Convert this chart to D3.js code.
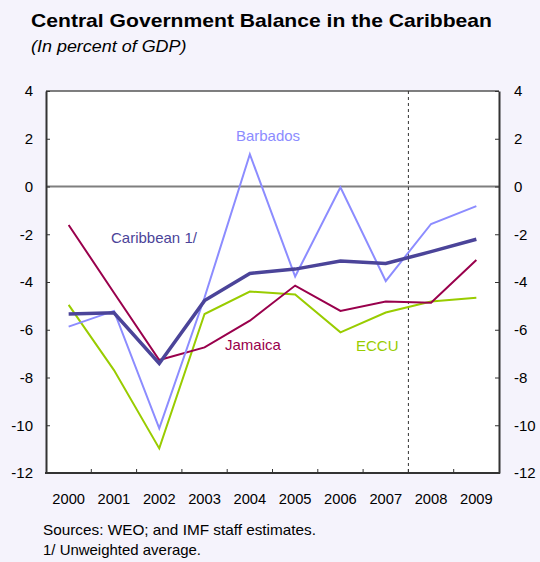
<!DOCTYPE html>
<html>
<head>
<meta charset="utf-8">
<script src="https://cdn.jsdelivr.net/npm/d3@7"></script>
<style>
  html, body { margin: 0; padding: 0; background: #F5F3FC; }
  svg { display: block; font-family: "Liberation Sans", Arial, sans-serif; }
</style>
</head>
<body>
<svg id="chart" width="540" height="562"></svg>
<script>
// Fiscal balance, percent of GDP
const years = ["2000","2001","2002","2003","2004","2005","2006","2007","2008","2009"];
const caribbean = [-5.34, -5.29, -7.41, -4.78, -3.64, -3.46, -3.12, -3.22, -2.73, -2.21];
const barbados  = [-5.87, -5.21, -10.13, -4.65, 1.35, -3.77, -0.03, -3.96, -1.57, -0.82];
const jamaica   = [-1.61, -4.45, -7.27, -6.74, -5.62, -4.15, -5.21, -4.82, -4.87, -3.08];
const eccu      = [-4.96, -7.69, -10.97, -5.34, -4.40, -4.52, -6.11, -5.28, -4.82, -4.66];
const yTicks = [4, 2, 0, -2, -4, -6, -8, -10, -12];
const projectionStart = "2008";

const series = [
  { name: "ECCU",         values: eccu,      color: "#99CC00", width: 2,   label: { x: 356, y: 351, anchor: "start" } },
  { name: "Jamaica",      values: jamaica,   color: "#99004C", width: 2,   label: { x: 225, y: 350, anchor: "start" } },
  { name: "Barbados",     values: barbados,  color: "#8C8CFF", width: 2,   label: { x: 268, y: 141, anchor: "middle" } },
  { name: "Caribbean 1/", values: caribbean, color: "#4B4499", width: 3.5, label: { x: 111, y: 243, anchor: "start" } }
];

const svg = d3.select("#chart");
const L = 46, R = 499, T = 91, B = 473;

const x = d3.scaleBand().domain(years).range([L, R]).padding(0);
const y = d3.scaleLinear().domain([-12, 4]).range([B, T]);
const cx = d => x(d) + x.bandwidth() / 2;

// Title block (set to a fixed run length so the heading spans the chart width)
svg.append("text").attr("x", 31).attr("y", 26.5)
  .attr("font-size", 19).attr("font-weight", "bold").attr("fill", "#000")
  .attr("textLength", 461).attr("lengthAdjust", "spacingAndGlyphs")
  .text("Central Government Balance in the Caribbean");
svg.append("text").attr("x", 31).attr("y", 52)
  .attr("font-size", 16.5).attr("font-style", "italic").attr("fill", "#000")
  .attr("textLength", 155.5).attr("lengthAdjust", "spacingAndGlyphs")
  .text("(In percent of GDP)");

// Plot area
svg.append("rect").attr("x", L).attr("y", T).attr("width", R - L).attr("height", B - T)
  .attr("fill", "#fff");

// Top frame line
svg.append("line").attr("x1", L).attr("x2", R).attr("y1", T).attr("y2", T)
  .attr("stroke", "#555").attr("stroke-width", 1.5);

// Zero line
svg.append("line").attr("x1", L).attr("x2", R).attr("y1", y(0)).attr("y2", y(0))
  .attr("stroke", "#7f7f7f").attr("stroke-width", 2);

// Projection divider
svg.append("line").attr("x1", x(projectionStart)).attr("x2", x(projectionStart))
  .attr("y1", T).attr("y2", B)
  .attr("stroke", "#333").attr("stroke-width", 1).attr("stroke-dasharray", "3,3");

// Lines
const line = d3.line().x((d, i) => cx(years[i])).y(d => y(d));
series.forEach(s => {
  svg.append("path").datum(s.values)
    .attr("d", line).attr("fill", "none")
    .attr("stroke", s.color).attr("stroke-width", s.width)
    .attr("stroke-linejoin", "miter");
  svg.append("text").attr("x", s.label.x).attr("y", s.label.y)
    .attr("text-anchor", s.label.anchor).attr("font-size", 15)
    .attr("fill", s.color).text(s.name);
});

// Axes
const fmt = d => String(d);
const leftAxis = d3.axisLeft(y).tickValues(yTicks).tickSizeInner(-4).tickSizeOuter(0).tickPadding(13)
  .tickFormat(fmt);
const rightAxis = d3.axisRight(y).tickValues(yTicks).tickSizeInner(-4).tickSizeOuter(0).tickPadding(15)
  .tickFormat(fmt);

function styleAxis(g) {
  g.select(".domain").attr("stroke", "#333").attr("stroke-width", 2);
  g.selectAll(".tick line").attr("stroke", "#333").attr("stroke-width", 1);
  g.selectAll(".tick text").attr("fill", "#000").attr("font-size", 15)
    .attr("font-family", "Liberation Sans, Arial, sans-serif");
}

svg.append("g").attr("transform", `translate(${L},0)`).call(leftAxis).call(styleAxis);
svg.append("g").attr("transform", `translate(${R},0)`).call(rightAxis).call(styleAxis);

// Bottom axis: ticks at category boundaries, labels centred in each band
const boundaries = years.map(d => x(d)).concat([R]);
const gx = svg.append("g");
gx.append("line").attr("x1", L - 1).attr("x2", R + 1).attr("y1", B).attr("y2", B)
  .attr("stroke", "#333").attr("stroke-width", 2);
gx.selectAll("line.tk").data(boundaries.slice(1, -1)).join("line").attr("class", "tk")
  .attr("x1", d => d).attr("x2", d => d).attr("y1", B).attr("y2", B - 4)
  .attr("stroke", "#333").attr("stroke-width", 1);
gx.selectAll("text").data(years).join("text")
  .attr("x", d => cx(d)).attr("y", 503.5).attr("text-anchor", "middle")
  .attr("font-size", 14.7).attr("fill", "#000").text(d => d);

// Notes
svg.append("text").attr("x", 43).attr("y", 535).attr("font-size", 15).attr("fill", "#000")
  .attr("textLength", 273).attr("lengthAdjust", "spacingAndGlyphs")
  .text("Sources: WEO; and IMF staff estimates.");
svg.append("text").attr("x", 43).attr("y", 555).attr("font-size", 15).attr("fill", "#000")
  .attr("textLength", 158).attr("lengthAdjust", "spacingAndGlyphs")
  .text("1/ Unweighted average.");
</script>
</body>
</html>
